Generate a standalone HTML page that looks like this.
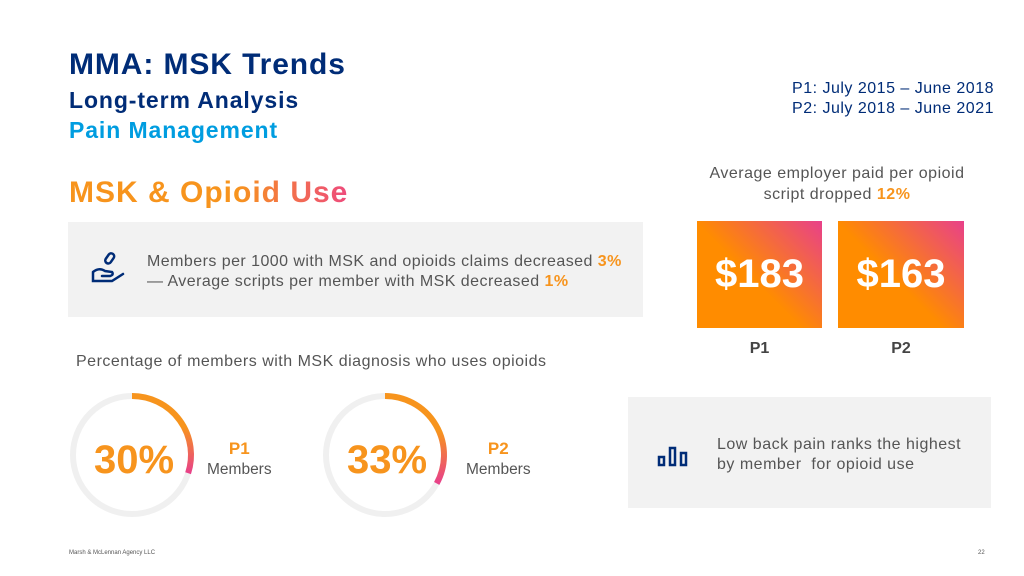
<!DOCTYPE html>
<html><head><meta charset="utf-8"><style>
*{margin:0;padding:0;box-sizing:border-box}
body{width:1024px;height:576px;background:#fff;font-family:"Liberation Sans",sans-serif;position:relative;overflow:hidden}
.a{position:absolute;white-space:nowrap}
.or{color:#f7941d;font-weight:bold}
</style></head><body>
<div class="a" style="left:69px;top:48px;font-size:30px;letter-spacing:0.9px;font-weight:bold;color:#002c77">MMA: MSK Trends</div>
<div class="a" style="left:69px;top:87px;font-size:23px;letter-spacing:0.9px;font-weight:bold;color:#002c77">Long-term Analysis</div>
<div class="a" style="left:69px;top:117px;font-size:23px;letter-spacing:0.9px;font-weight:bold;color:#009de0">Pain Management</div>
<div class="a" style="right:30px;top:79px;font-size:16px;letter-spacing:0.5px;color:#002c77;text-align:right;line-height:20px">P1: July 2015 – June 2018<br>P2: July 2018 – June 2021</div>
<div class="a" style="left:69px;top:176px;font-size:30px;letter-spacing:1px;font-weight:bold;background:linear-gradient(90deg,#f7941d 60%,#ee4b7d);-webkit-background-clip:text;color:transparent">MSK &amp; Opioid Use</div>

<div class="a" style="left:68px;top:222px;width:575px;height:95px;background:#f2f2f2"></div>
<svg class="a" style="left:90px;top:250px" width="36" height="36" viewBox="0 0 36 36"><g fill="none" stroke="#002c77" stroke-width="2.5" stroke-linecap="round"><rect x="17" y="3" width="6" height="11" rx="3" transform="rotate(35 20 8)"/><path d="M3 22 Q9 17 15 21 L22 22 Q24 25 20 26 L12 26 M3 22 L3 31 L22 31 L33 24"/></g></svg>
<div class="a" style="left:147px;top:252px;font-size:16px;letter-spacing:0.45px;color:#555;line-height:20px">Members per 1000 with MSK and opioids claims decreased <span class="or">3%</span><br>— Average scripts per member with MSK decreased <span class="or">1%</span></div>

<div class="a" style="left:697px;top:163px;width:280px;text-align:center;font-size:16px;letter-spacing:0.5px;color:#555;line-height:21px">Average employer paid per opioid<br>script dropped <span class="or">12%</span></div>
<div class="a" style="left:697px;top:221px;width:125px;height:107px;background:linear-gradient(45deg,#ff8c00 45%,#e8408a);color:#fff;font-weight:bold;font-size:40px;text-align:center;line-height:107px">$183</div>
<div class="a" style="left:838px;top:221px;width:126px;height:107px;background:linear-gradient(45deg,#ff8c00 45%,#e8408a);color:#fff;font-weight:bold;font-size:40px;text-align:center;line-height:107px">$163</div>
<div class="a" style="left:697px;top:340px;width:125px;text-align:center;font-size:16px;font-weight:bold;color:#444">P1</div>
<div class="a" style="left:838px;top:340px;width:126px;text-align:center;font-size:16px;font-weight:bold;color:#444">P2</div>

<div class="a" style="left:76px;top:353px;font-size:16px;letter-spacing:0.5px;color:#555">Percentage of members with MSK diagnosis who uses opioids</div>
<svg id="donuts" class="a" style="left:0;top:380px" width="600" height="150">
<defs><linearGradient id="g" x1="0" y1="0" x2="0" y2="1"><stop offset="0.4" stop-color="#f7941d"/><stop offset="1" stop-color="#e8408a"/></linearGradient></defs></svg>
<div class="a" style="left:207px;top:439px;font-size:15.5px;color:#555;text-align:center;line-height:20px"><span class="or" style="font-size:17px">P1</span><br>Members</div>
<div class="a" style="left:466px;top:439px;font-size:15.5px;color:#555;text-align:center;line-height:20px"><span class="or" style="font-size:17px">P2</span><br>Members</div>

<div class="a" style="left:628px;top:397px;width:363px;height:111px;background:#f2f2f2"></div>
<svg class="a" style="left:657px;top:445px" width="32" height="22"><g fill="none" stroke="#002c77" stroke-width="2.5"><rect x="2" y="12" width="5" height="8"/><rect x="13" y="3" width="5" height="17"/><rect x="24" y="8" width="5" height="12"/></g></svg>
<div class="a" style="left:717px;top:435px;font-size:16px;letter-spacing:0.5px;color:#555;line-height:20px">Low back pain ranks the highest<br>by member&nbsp; for opioid use</div>

<div class="a" style="left:69px;top:550px;font-size:6px;color:#555">Marsh &amp; McLennan Agency LLC</div>
<div class="a" style="left:978px;top:550px;font-size:6px;color:#555">22</div>

<script>
const labels=["30%","33%"];
const pcts=[30,33];
const centersX=[132,385];
const svg=document.getElementById('donuts');
const NS="http://www.w3.org/2000/svg";
const cy=75,r=59;
function ang(p){return p/100*2*Math.PI;}
pcts.forEach((p,i)=>{
  const cx=centersX[i];
  const c=document.createElementNS(NS,'circle');
  
  
  c.setAttribute('cx',cx);c.setAttribute('cy',cy);c.setAttribute('r',r);
  c.setAttribute('fill','none');c.setAttribute('stroke','#f0f0f0');c.setAttribute('stroke-width','6');
  svg.appendChild(c);
  const a=ang(p);
  const x=cx+r*Math.sin(a),y=cy-r*Math.cos(a);
  const path=document.createElementNS(NS,'path');
  
  
  path.setAttribute('d',`M${cx} ${cy-r} A${r} ${r} 0 ${p>50?1:0} 1 ${x} ${y}`);
  path.setAttribute('fill','none');path.setAttribute('stroke','url(#g)');path.setAttribute('stroke-width','6');
  svg.appendChild(path);
  const t=document.createElementNS(NS,'text');
  
  
  t.setAttribute('x',cx+2);t.setAttribute('y',cy+18);t.setAttribute('text-anchor','middle');
  t.setAttribute('font-size','40');t.setAttribute('font-weight','bold');t.setAttribute('fill','#f7941d');
  t.setAttribute('font-family','Liberation Sans, sans-serif');
  t.textContent=labels[i];
  svg.appendChild(t);
});
</script>
</body></html>
